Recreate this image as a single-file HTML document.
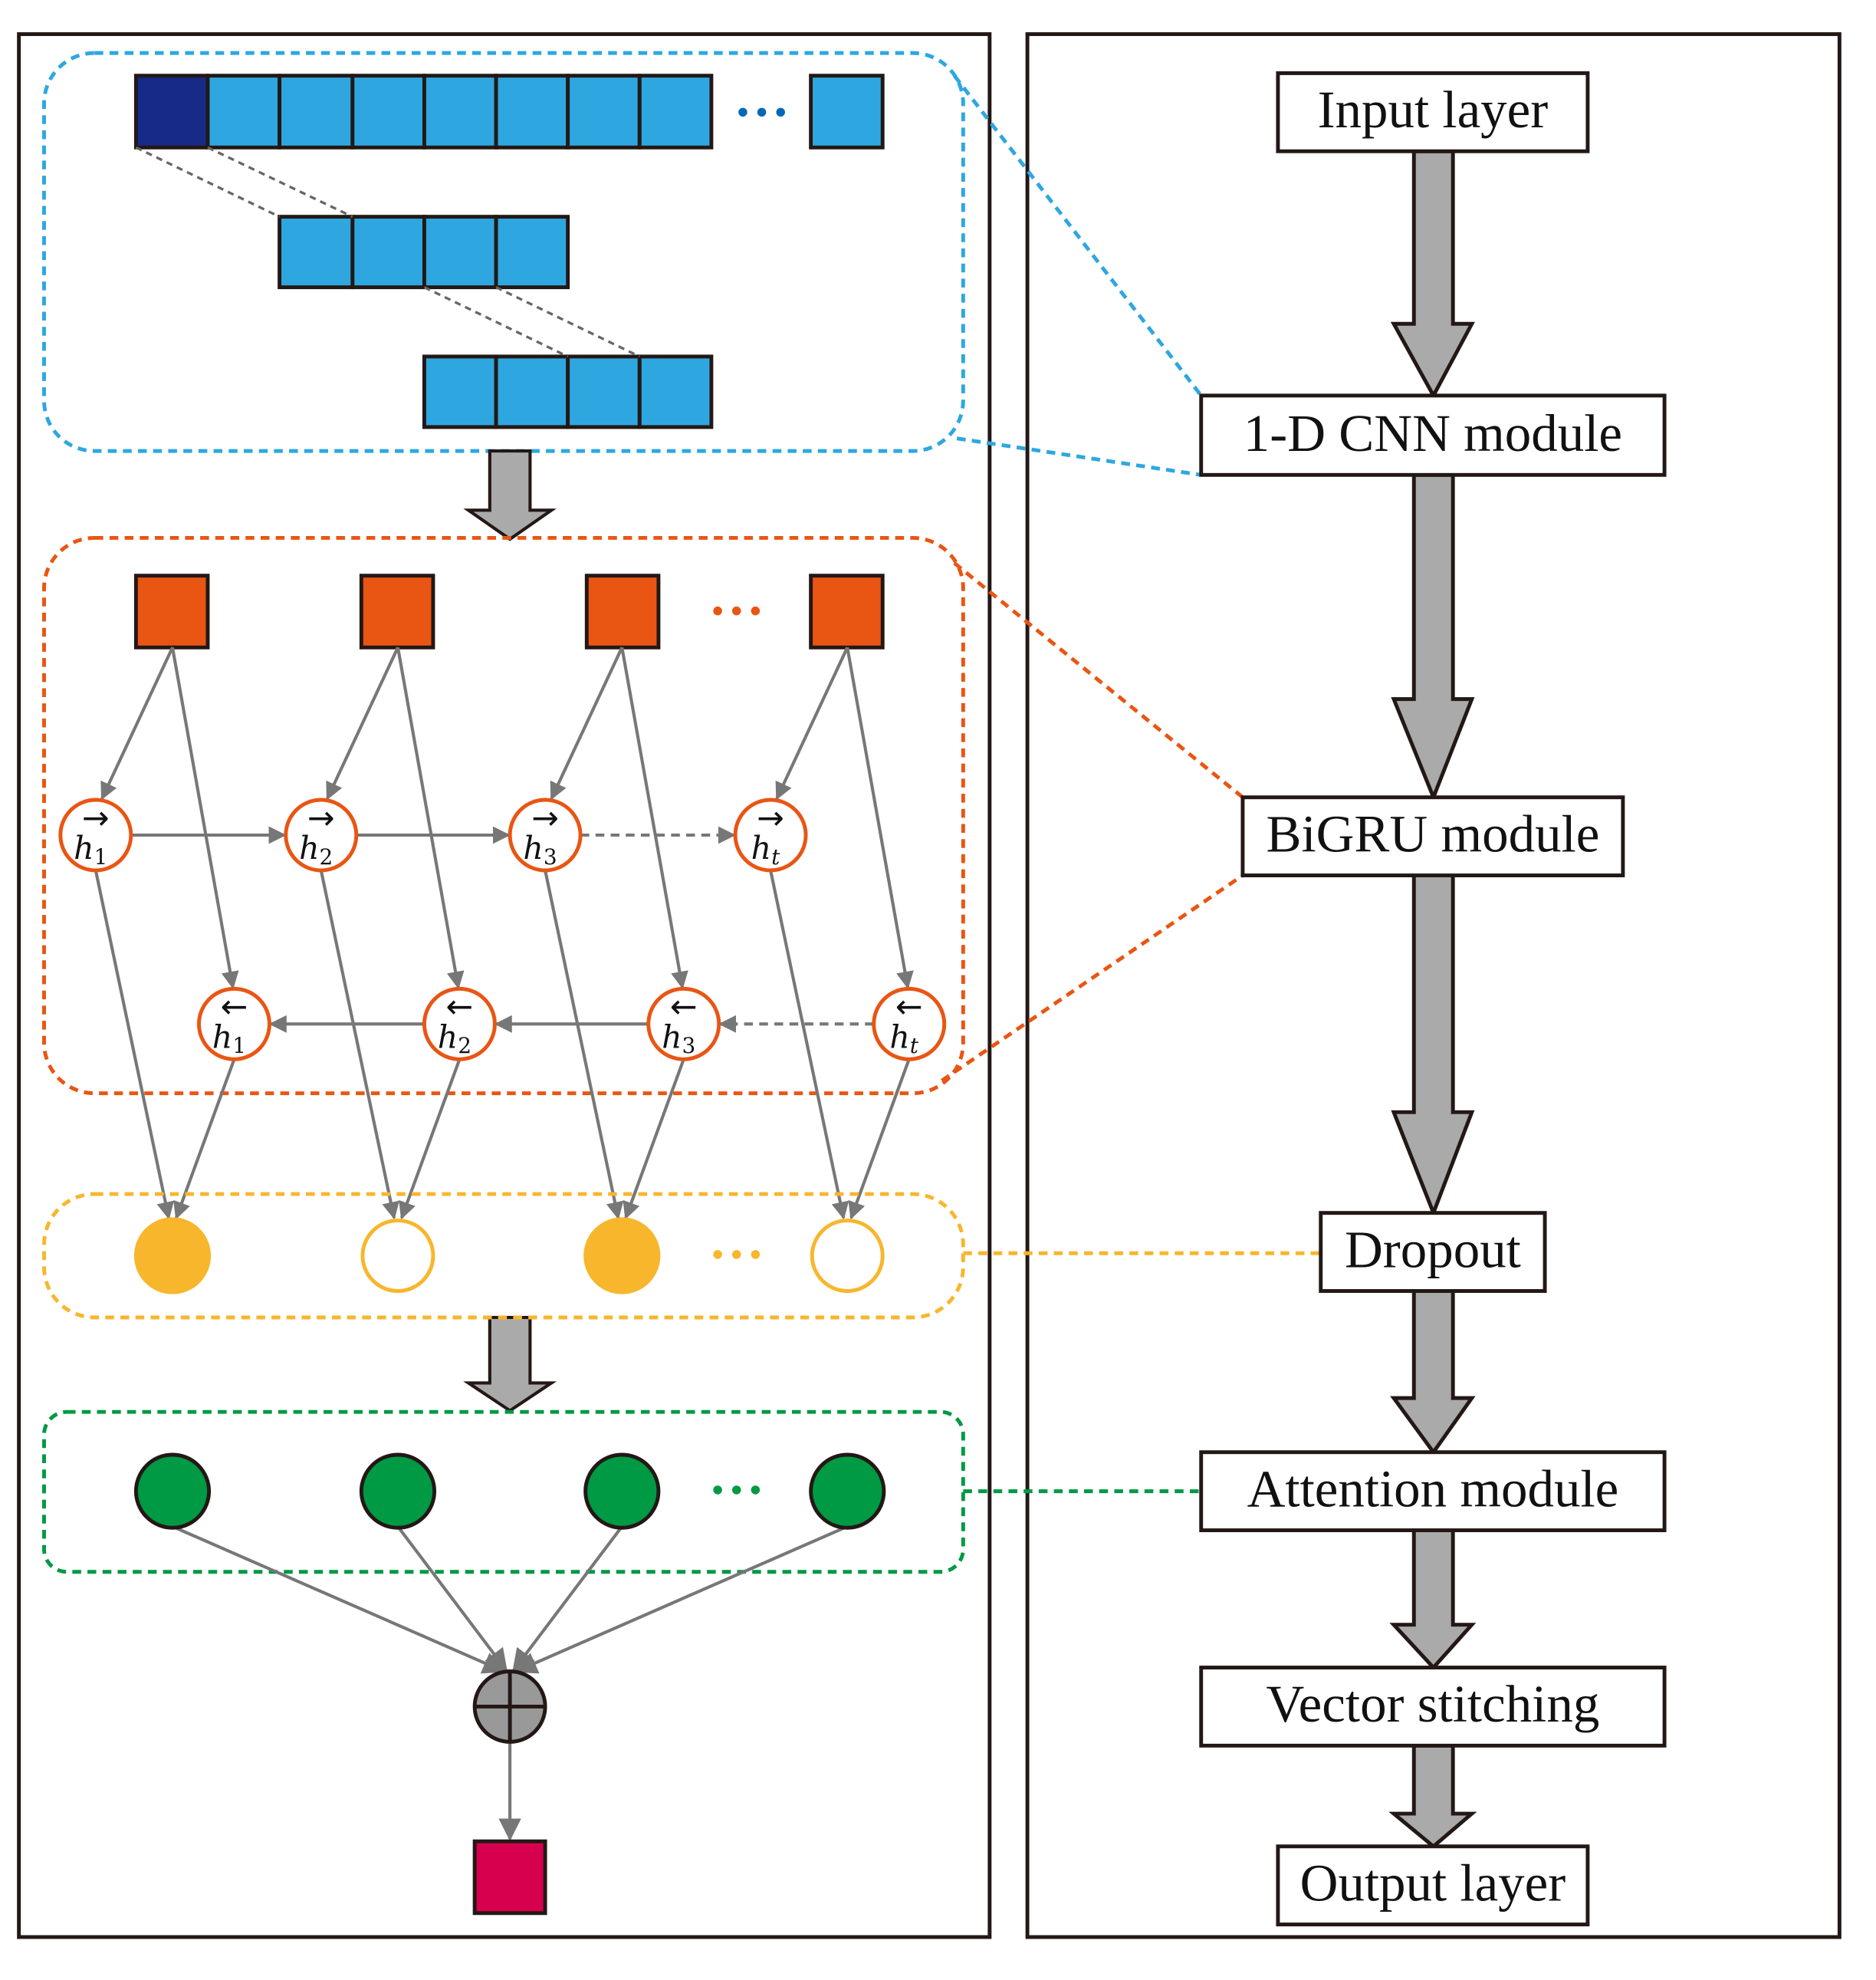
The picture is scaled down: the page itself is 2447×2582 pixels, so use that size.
<!DOCTYPE html>
<html><head><meta charset="utf-8"><style>html,body{margin:0;padding:0;background:#fff}svg{display:block}</style></head>
<body>
<svg width="2447" height="2582" viewBox="0 0 1490 1572" xmlns="http://www.w3.org/2000/svg" font-family="Liberation Serif, serif">
<defs>
<marker id="ar" viewBox="0 0 10 10" refX="9" refY="5" markerWidth="14" markerHeight="14" markerUnits="userSpaceOnUse" orient="auto"><path d="M0,0 L10,5 L0,10 Z" fill="#777"/></marker>
<marker id="ar2" viewBox="0 0 10 10" refX="9" refY="5" markerWidth="18" markerHeight="18" markerUnits="userSpaceOnUse" orient="auto"><path d="M0,0 L10,5 L0,10 Z" fill="#777"/></marker>
</defs>
<rect x="15" y="27" width="771" height="1511" fill="none" stroke="#231815" stroke-width="3"/>
<rect x="816" y="27" width="645" height="1511" fill="none" stroke="#231815" stroke-width="3"/>

<rect x="35" y="42" width="730" height="316" rx="40" fill="none" stroke="#2EA7E0" stroke-width="3" stroke-dasharray="7,5"/>
<g stroke="#231815" stroke-width="3" fill="#2EA7E0">
<rect x="108" y="60" width="57" height="57" fill="#172A88"/>
<rect x="165" y="60" width="57" height="57"/><rect x="222" y="60" width="58" height="57"/><rect x="280" y="60" width="57" height="57"/><rect x="337" y="60" width="57" height="57"/><rect x="394" y="60" width="57" height="57"/><rect x="451" y="60" width="57" height="57"/><rect x="508" y="60" width="57" height="57"/>
<rect x="644" y="60" width="57" height="57"/>
<rect x="222" y="172" width="58" height="56"/><rect x="280" y="172" width="57" height="56"/><rect x="337" y="172" width="57" height="56"/><rect x="394" y="172" width="57" height="56"/>
<rect x="337" y="283" width="57" height="56"/><rect x="394" y="283" width="57" height="56"/><rect x="451" y="283" width="57" height="56"/><rect x="508" y="283" width="57" height="56"/>
</g>
<g fill="#0068B7"><circle cx="590" cy="89" r="3.5"/><circle cx="605" cy="89" r="3.5"/><circle cx="620" cy="89" r="3.5"/></g>
<g stroke="#666" stroke-width="2" stroke-dasharray="5,4">
<line x1="108" y1="117" x2="222" y2="172"/><line x1="165" y1="117" x2="280" y2="172"/>
<line x1="337" y1="228" x2="451" y2="283"/><line x1="394" y1="228" x2="508" y2="283"/>
</g>

<path d="M389,358 H421 V405 H438 L405,428 L372,405 H389 Z" fill="#AAA" stroke="#231815" stroke-width="2.5"/>
<path d="M389,1046 H421 V1098 H438 L405,1120 L372,1098 H389 Z" fill="#AAA" stroke="#231815" stroke-width="2.5"/>

<rect x="35" y="427" width="730" height="441" rx="40" fill="none" stroke="#E95513" stroke-width="3" stroke-dasharray="7,5"/>
<g fill="#E95513" stroke="#231815" stroke-width="3">
<rect x="108" y="457" width="57" height="57"/><rect x="287" y="457" width="57" height="57"/><rect x="466" y="457" width="57" height="57"/><rect x="644" y="457" width="57" height="57"/>
</g>
<g fill="#E95513"><circle cx="570" cy="485" r="3.5"/><circle cx="585" cy="485" r="3.5"/><circle cx="600" cy="485" r="3.5"/></g>
<g stroke="#777" stroke-width="2.5" marker-end="url(#ar)" fill="none">
<line x1="137" y1="514" x2="81" y2="634"/><line x1="137" y1="514" x2="185" y2="784"/>
<line x1="316" y1="514" x2="260" y2="634"/><line x1="316" y1="514" x2="364" y2="784"/>
<line x1="494" y1="514" x2="438" y2="634"/><line x1="494" y1="514" x2="542" y2="784"/>
<line x1="673" y1="514" x2="617" y2="634"/><line x1="673" y1="514" x2="721" y2="784"/>
<line x1="104" y1="663" x2="226" y2="663"/><line x1="283" y1="663" x2="404" y2="663"/>
<line x1="461" y1="663" x2="583" y2="663" stroke-dasharray="7,5"/>
<line x1="694" y1="813" x2="572" y2="813" stroke-dasharray="7,5"/>
<line x1="515" y1="813" x2="394" y2="813"/><line x1="337" y1="813" x2="215" y2="813"/>
<line x1="76" y1="691" x2="134" y2="967"/><line x1="186" y1="841" x2="140" y2="967"/>
<line x1="255" y1="691" x2="313" y2="967"/><line x1="365" y1="841" x2="319" y2="967"/>
<line x1="433" y1="691" x2="491" y2="967"/><line x1="543" y1="841" x2="497" y2="967"/>
<line x1="612" y1="691" x2="670" y2="967"/><line x1="722" y1="841" x2="676" y2="967"/>
</g>
<g fill="#fff" stroke="#E95513" stroke-width="3">
<circle cx="76" cy="663" r="28"/><circle cx="255" cy="663" r="28"/><circle cx="433" cy="663" r="28"/><circle cx="612" cy="663" r="28"/>
<circle cx="186" cy="813" r="28"/><circle cx="365" cy="813" r="28"/><circle cx="543" cy="813" r="28"/><circle cx="722" cy="813" r="28"/>
</g>
<g font-family="DejaVu Serif, serif" font-style="italic" font-size="25" fill="#111" text-anchor="middle">
<text x="72" y="682">h<tspan font-size="17" font-style="normal" dy="4">1</tspan></text>
<text x="251" y="682">h<tspan font-size="17" font-style="normal" dy="4">2</tspan></text>
<text x="429" y="682">h<tspan font-size="17" font-style="normal" dy="4">3</tspan></text>
<text x="608" y="682">h<tspan font-size="17" dy="4">t</tspan></text>
<text x="182" y="832">h<tspan font-size="17" font-style="normal" dy="4">1</tspan></text>
<text x="361" y="832">h<tspan font-size="17" font-style="normal" dy="4">2</tspan></text>
<text x="539" y="832">h<tspan font-size="17" font-style="normal" dy="4">3</tspan></text>
<text x="718" y="832">h<tspan font-size="17" dy="4">t</tspan></text>
</g>
<g font-family="DejaVu Sans, sans-serif" font-size="26" fill="#111" text-anchor="middle">
<text x="76" y="658">→</text><text x="255" y="658">→</text><text x="433" y="658">→</text><text x="612" y="658">→</text>
<text x="186" y="808">←</text><text x="365" y="808">←</text><text x="543" y="808">←</text><text x="722" y="808">←</text>
</g>

<rect x="35" y="948" width="730" height="98" rx="40" fill="none" stroke="#F8B62D" stroke-width="3" stroke-dasharray="7,5"/>
<g stroke="#F8B62D" stroke-width="3">
<circle cx="137" cy="997" r="29" fill="#F8B62D"/><circle cx="316" cy="997" r="28" fill="#fff"/><circle cx="494" cy="997" r="29" fill="#F8B62D"/><circle cx="673" cy="997" r="28" fill="#fff"/>
</g>
<g fill="#F8B62D"><circle cx="570" cy="996" r="3.5"/><circle cx="585" cy="996" r="3.5"/><circle cx="600" cy="996" r="3.5"/></g>

<rect x="35" y="1121" width="730" height="127" rx="18" fill="none" stroke="#009944" stroke-width="3" stroke-dasharray="7,5"/>
<g stroke="#777" stroke-width="2.5" marker-end="url(#ar2)">
<line x1="137" y1="1212" x2="400" y2="1327"/><line x1="316" y1="1212" x2="402" y2="1326"/>
<line x1="494" y1="1212" x2="408" y2="1326"/><line x1="673" y1="1212" x2="410" y2="1327"/>
<line x1="405" y1="1383" x2="405" y2="1460"/>
</g>
<g fill="#009944" stroke="#231815" stroke-width="3">
<circle cx="137" cy="1184" r="29"/><circle cx="316" cy="1184" r="29"/><circle cx="494" cy="1184" r="29"/><circle cx="673" cy="1184" r="29"/>
</g>
<g fill="#009944"><circle cx="570" cy="1183" r="3.5"/><circle cx="585" cy="1183" r="3.5"/><circle cx="600" cy="1183" r="3.5"/></g>
<circle cx="405" cy="1355" r="28" fill="#999" stroke="#231815" stroke-width="3"/>
<path d="M377,1355 H433 M405,1327 V1383" stroke="#231815" stroke-width="3"/>
<rect x="377" y="1462" width="56" height="57" fill="#D7004F" stroke="#231815" stroke-width="3"/>

<g fill="none" stroke-width="3" stroke-dasharray="7,5">
<line x1="758" y1="60" x2="954" y2="314" stroke="#2EA7E0"/>
<line x1="760" y1="348" x2="954" y2="377" stroke="#2EA7E0"/>
<line x1="758" y1="447" x2="987" y2="633" stroke="#E95513"/>
<line x1="748" y1="858" x2="987" y2="695" stroke="#E95513"/>
<line x1="765" y1="995" x2="1049" y2="995" stroke="#F8B62D"/>
<line x1="765" y1="1184" x2="954" y2="1184" stroke="#009944"/>
</g>

<g fill="#AAA" stroke="#231815" stroke-width="3">
<path d="M1123,120 H1154 V257 H1169 L1138.5,314 L1107,257 H1123 Z"/>
<path d="M1123,377 H1154 V555 H1169 L1138.5,633 L1107,555 H1123 Z"/>
<path d="M1123,695 H1154 V883 H1169 L1138.5,963 L1107,883 H1123 Z"/>
<path d="M1123,1025 H1154 V1110 H1169 L1138.5,1153 L1107,1110 H1123 Z"/>
<path d="M1123,1215 H1154 V1290 H1169 L1138.5,1324 L1107,1290 H1123 Z"/>
<path d="M1123,1386 H1154 V1440 H1169 L1138.5,1466 L1107,1440 H1123 Z"/>
</g>
<g fill="#fff" stroke="#231815" stroke-width="3">
<rect x="1015" y="58" width="246" height="62"/>
<rect x="954" y="314" width="368" height="63"/>
<rect x="987" y="633" width="302" height="62"/>
<rect x="1049" y="963" width="178" height="62"/>
<rect x="954" y="1153" width="368" height="62"/>
<rect x="954" y="1324" width="368" height="62"/>
<rect x="1015" y="1466" width="246" height="62"/>
</g>
<g font-size="42" fill="#111" text-anchor="middle">
<text x="1138" y="101">Input layer</text>
<text x="1138" y="358">1-D CNN module</text>
<text x="1138" y="676">BiGRU module</text>
<text x="1138" y="1006">Dropout</text>
<text x="1138" y="1196">Attention module</text>
<text x="1138" y="1367">Vector stitching</text>
<text x="1138" y="1509">Output layer</text>
</g>
</svg>
</body></html>
